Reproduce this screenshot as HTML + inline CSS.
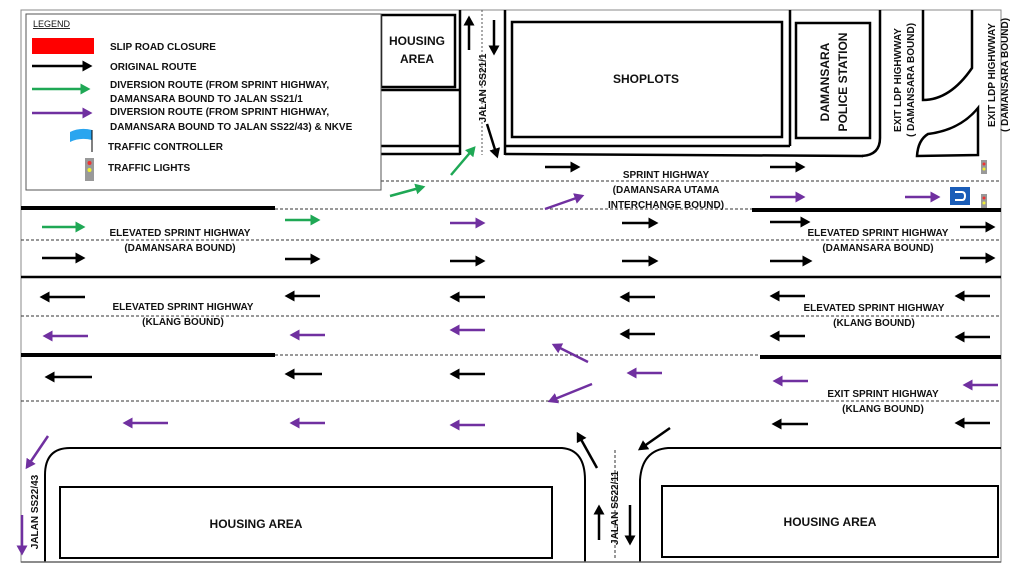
<!DOCTYPE html>
<html><head><meta charset="utf-8"><style>
html,body{margin:0;padding:0;background:#fff}
svg{display:block}
text{font-family:"Liberation Sans",sans-serif;font-weight:bold;fill:#111}
</style></head><body>
<svg width="1024" height="576" viewBox="0 0 1024 576" xmlns="http://www.w3.org/2000/svg">
<defs>
<marker id="ak" markerWidth="5" markerHeight="5" refX="3" refY="2.2" orient="auto" markerUnits="strokeWidth"><path d="M0,0L4,2.2L0,4.4z" fill="#000"/></marker>
<marker id="ag" markerWidth="5" markerHeight="5" refX="3" refY="2.2" orient="auto" markerUnits="strokeWidth"><path d="M0,0L4,2.2L0,4.4z" fill="#1fa855"/></marker>
<marker id="ap" markerWidth="5" markerHeight="5" refX="3" refY="2.2" orient="auto" markerUnits="strokeWidth"><path d="M0,0L4,2.2L0,4.4z" fill="#7030a0"/></marker>
</defs>
<rect x="21" y="10" width="980" height="552" fill="none" stroke="#888" stroke-width="1"/>
<g fill="none" stroke="#000" stroke-width="2.5">
<rect x="381" y="15" width="74" height="72"/>
<line x1="381" y1="90" x2="460" y2="90"/>
<line x1="381" y1="146" x2="460" y2="146"/>
<line x1="381" y1="154" x2="460" y2="154"/>
<line x1="460" y1="10" x2="460" y2="155"/>
<line x1="505" y1="10" x2="505" y2="155"/>
<rect x="512" y="22" width="270" height="115"/>
<line x1="505" y1="146" x2="790" y2="146"/>
<line x1="790" y1="10" x2="790" y2="146"/>
<line x1="505" y1="154" x2="863" y2="156"/>
<rect x="796" y="23" width="74" height="115"/>
<path d="M880,10 V138 Q880,155 862,156"/>
<path d="M923,10 V100 Q950,100 972,68 V10"/>
<path d="M917,156 Q918,140 928,134 Q960,130 978,108 V155 Z"/>
</g>
<line x1="482" y1="10" x2="482" y2="155" stroke="#555" stroke-dasharray="2,2"/>
<g stroke="#333" stroke-width="1" stroke-dasharray="3,2" fill="none">
<line x1="381" y1="181" x2="1001" y2="181"/>
<line x1="275" y1="209" x2="755" y2="209"/>
<line x1="21" y1="240" x2="1001" y2="240"/>
<line x1="21" y1="316" x2="1001" y2="316"/>
<line x1="275" y1="355" x2="760" y2="355"/>
<line x1="21" y1="401" x2="1001" y2="401"/>
<line x1="615" y1="450" x2="615" y2="560"/>
</g>
<g stroke="#000" fill="none">
<line x1="21" y1="208" x2="275" y2="208" stroke-width="4"/>
<line x1="752" y1="210" x2="1001" y2="210" stroke-width="4"/>
<line x1="21" y1="277" x2="1001" y2="277" stroke-width="2.5"/>
<line x1="21" y1="355" x2="275" y2="355" stroke-width="4"/>
<line x1="760" y1="357" x2="1001" y2="357" stroke-width="4"/>
<path d="M45,562 V475 Q45,448 70,448 H562 Q585,450 585,480 V562" stroke-width="2"/>
<path d="M640,562 V480 Q642,450 668,448 H1001" stroke-width="2"/>
<rect x="60" y="487" width="492" height="71" stroke-width="2"/>
<rect x="662" y="486" width="336" height="71" stroke-width="2"/>
<line x1="21" y1="562" x2="1001" y2="562" stroke-width="1.5" stroke="#666"/>
</g>
<g stroke="#000" stroke-width="2.5" marker-end="url(#ak)" fill="none">
<line x1="545" y1="167" x2="578" y2="167"/><line x1="770" y1="167" x2="803" y2="167"/>
<line x1="469" y1="50" x2="469" y2="18"/><line x1="494" y1="20" x2="494" y2="53"/>
<line x1="487" y1="124" x2="497" y2="156"/>
<line x1="622" y1="223" x2="656" y2="223"/><line x1="770" y1="222" x2="808" y2="222"/><line x1="960" y1="227" x2="993" y2="227"/>
<line x1="42" y1="258" x2="83" y2="258"/><line x1="285" y1="259" x2="318" y2="259"/><line x1="450" y1="261" x2="483" y2="261"/><line x1="622" y1="261" x2="656" y2="261"/><line x1="770" y1="261" x2="810" y2="261"/><line x1="960" y1="258" x2="993" y2="258"/>
<line x1="85" y1="297" x2="42" y2="297"/><line x1="320" y1="296" x2="287" y2="296"/><line x1="485" y1="297" x2="452" y2="297"/><line x1="655" y1="297" x2="622" y2="297"/><line x1="805" y1="296" x2="772" y2="296"/><line x1="990" y1="296" x2="957" y2="296"/>
<line x1="655" y1="334" x2="622" y2="334"/><line x1="805" y1="336" x2="772" y2="336"/><line x1="990" y1="337" x2="957" y2="337"/>
<line x1="92" y1="377" x2="47" y2="377"/><line x1="322" y1="374" x2="287" y2="374"/><line x1="485" y1="374" x2="452" y2="374"/>
<line x1="808" y1="424" x2="774" y2="424"/><line x1="990" y1="423" x2="957" y2="423"/>
<line x1="597" y1="468" x2="578" y2="434"/><line x1="670" y1="428" x2="640" y2="449"/>
<line x1="599" y1="540" x2="599" y2="507"/><line x1="630" y1="505" x2="630" y2="543"/>
</g>
<g stroke="#1fa855" stroke-width="2.5" marker-end="url(#ag)" fill="none">
<line x1="390" y1="196" x2="423" y2="187"/><line x1="451" y1="175" x2="474" y2="148"/>
<line x1="42" y1="227" x2="83" y2="227"/><line x1="285" y1="220" x2="318" y2="220"/>
</g>
<g stroke="#7030a0" stroke-width="2.5" marker-end="url(#ap)" fill="none">
<line x1="545" y1="209" x2="582" y2="196"/><line x1="770" y1="197" x2="803" y2="197"/><line x1="905" y1="197" x2="938" y2="197"/>
<line x1="450" y1="223" x2="483" y2="223"/>
<line x1="88" y1="336" x2="45" y2="336"/><line x1="325" y1="335" x2="292" y2="335"/><line x1="485" y1="330" x2="452" y2="330"/>
<line x1="588" y1="362" x2="554" y2="345"/>
<line x1="662" y1="373" x2="629" y2="373"/><line x1="808" y1="381" x2="775" y2="381"/><line x1="998" y1="385" x2="965" y2="385"/>
<line x1="592" y1="384" x2="550" y2="401"/>
<line x1="168" y1="423" x2="125" y2="423"/><line x1="325" y1="423" x2="292" y2="423"/><line x1="485" y1="425" x2="452" y2="425"/>
<line x1="48" y1="436" x2="27" y2="467"/>
<line x1="22" y1="515" x2="22" y2="553"/>
</g>
<rect x="950" y="187" width="20" height="18" fill="#1a5db8"/>
<path d="M955,192 H962 Q965,192 965,196 Q965,200 962,200 H955" stroke="#fff" stroke-width="2" fill="none"/>
<rect x="981" y="160" width="6" height="14" fill="#999"/><circle cx="984" cy="164" r="1.5" fill="#e33"/><circle cx="984" cy="169" r="1.5" fill="#ee3"/>
<rect x="981" y="194" width="6" height="14" fill="#999"/><circle cx="984" cy="198" r="1.5" fill="#e33"/><circle cx="984" cy="203" r="1.5" fill="#ee3"/>
<rect x="26" y="14" width="355" height="176" fill="#fff" stroke="#555" stroke-width="1"/>
<text x="33" y="27" font-size="9" style="font-weight:normal" text-decoration="underline">LEGEND</text>
<rect x="32" y="38" width="62" height="16" fill="#f00"/>
<line x1="32" y1="66" x2="90" y2="66" stroke="#000" stroke-width="2.5" marker-end="url(#ak)"/>
<line x1="32" y1="89" x2="88" y2="89" stroke="#1fa855" stroke-width="2.5" marker-end="url(#ag)"/>
<line x1="32" y1="113" x2="90" y2="113" stroke="#7030a0" stroke-width="2.5" marker-end="url(#ap)"/>
<path d="M70,132 Q80,127 92,130 V140 Q80,137 70,142 Z" fill="#2aa5ef"/>
<line x1="92" y1="130" x2="92" y2="152" stroke="#000"/>
<rect x="85" y="158" width="9" height="23" fill="#999"/><circle cx="89.5" cy="163" r="2" fill="#e33"/><circle cx="89.5" cy="170" r="2" fill="#ee3"/>
<g font-size="10">
<text x="110" y="50">SLIP ROAD CLOSURE</text>
<text x="110" y="70">ORIGINAL ROUTE</text>
<text x="110" y="88">DIVERSION ROUTE (FROM SPRINT HIGHWAY,</text>
<text x="110" y="102">DAMANSARA BOUND TO JALAN SS21/1</text>
<text x="110" y="115">DIVERSION ROUTE (FROM SPRINT HIGHWAY,</text>
<text x="110" y="130">DAMANSARA BOUND TO JALAN SS22/43) &amp; NKVE</text>
<text x="108" y="150">TRAFFIC CONTROLLER</text>
<text x="108" y="171">TRAFFIC LIGHTS</text>
</g>
<g font-size="12" text-anchor="middle">
<text x="417" y="45">HOUSING</text><text x="417" y="63">AREA</text>
<text x="646" y="83">SHOPLOTS</text>
<text x="256" y="528">HOUSING AREA</text>
<text x="830" y="526">HOUSING AREA</text>
</g>
<g font-size="10" text-anchor="middle">
<text x="666" y="178">SPRINT HIGHWAY</text>
<text x="666" y="193">(DAMANSARA UTAMA</text>
<text x="666" y="208">INTERCHANGE BOUND)</text>
<text x="180" y="236">ELEVATED SPRINT HIGHWAY</text>
<text x="180" y="251">(DAMANSARA BOUND)</text>
<text x="878" y="236">ELEVATED SPRINT HIGHWAY</text>
<text x="878" y="251">(DAMANSARA BOUND)</text>
<text x="183" y="310">ELEVATED SPRINT HIGHWAY</text>
<text x="183" y="325">(KLANG BOUND)</text>
<text x="874" y="311">ELEVATED SPRINT HIGHWAY</text>
<text x="874" y="326">(KLANG BOUND)</text>
<text x="883" y="397">EXIT SPRINT HIGHWAY</text>
<text x="883" y="412">(KLANG BOUND)</text>
</g>
<g font-size="10" text-anchor="middle">
<text transform="translate(486,88) rotate(-90)">JALAN SS21/1</text>
<text transform="translate(20,512) rotate(-90)" x="0" y="18">JALAN SS22/43</text>
<text transform="translate(618,508) rotate(-90)">JALAN SS22/11</text>
<text transform="translate(829,82) rotate(-90)" font-size="12">DAMANSARA</text>
<text transform="translate(847,82) rotate(-90)" font-size="12">POLICE STATION</text>
<text transform="translate(901,80) rotate(-90)">EXIT LDP HIGHWWAY</text>
<text transform="translate(914,80) rotate(-90)">( DAMANSARA BOUND)</text>
<text transform="translate(995,75) rotate(-90)">EXIT LDP HIGHWWAY</text>
<text transform="translate(1008,75) rotate(-90)">( DAMANSARA BOUND)</text>
</g>
</svg>
</body></html>
